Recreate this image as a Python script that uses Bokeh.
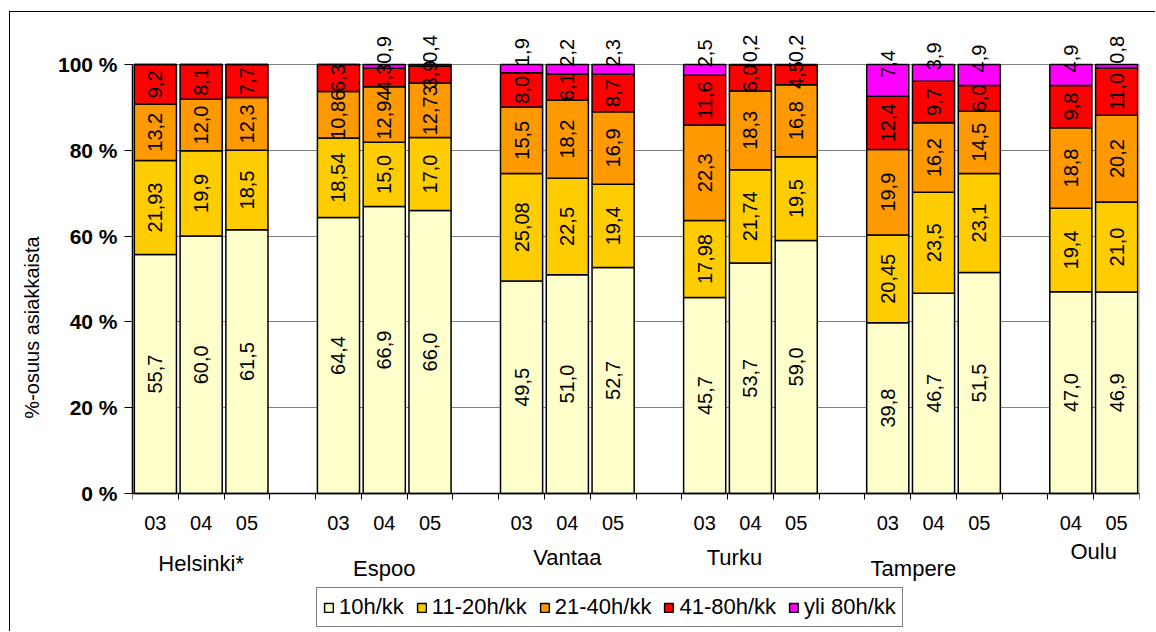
import math
from bokeh.plotting import figure
from bokeh.models import (ColumnDataSource, FixedTicker, Range1d, Legend, LegendItem)
from bokeh.core.properties import value
from bokeh.embed import file_html
from bokeh.resources import INLINE

# ---------------- data ----------------
cities = ["Helsinki*", "Espoo", "Vantaa", "Turku", "Tampere", "Oulu"]
city_years = [["03", "04", "05"], ["03", "04", "05"], ["03", "04", "05"],
              ["03", "04", "05"], ["03", "04", "05"], ["04", "05"]]
series = ["10h/kk", "11-20h/kk", "21-40h/kk", "41-80h/kk", "yli 80h/kk"]

h10    = [55.7, 60.0, 61.5, 64.4, 66.9, 66.0, 49.5, 51.0, 52.7, 45.7, 53.7, 59.0, 39.8, 46.7, 51.5, 47.0, 46.9]
h11_20 = [21.93, 19.9, 18.5, 18.54, 15.0, 17.0, 25.08, 22.5, 19.4, 17.98, 21.74, 19.5, 20.45, 23.5, 23.1, 19.4, 21.0]
h21_40 = [13.2, 12.0, 12.3, 10.86, 12.94, 12.73, 15.5, 18.2, 16.9, 22.3, 18.3, 16.8, 19.9, 16.2, 14.5, 18.8, 20.2]
h41_80 = [9.2, 8.1, 7.7, 6.3, 4.3, 3.9, 8.0, 6.1, 8.7, 11.6, 6.0, 4.5, 12.4, 9.7, 6.0, 9.8, 11.0]
yli80  = [0.0, 0.0, 0.0, 0.0, 0.9, 0.4, 1.9, 2.2, 2.3, 2.5, 0.2, 0.2, 7.4, 3.9, 4.9, 4.9, 0.8]

y_ticks = [0, 20, 40, 60, 80, 100]

# ---------------- styles ----------------
colors = ["#FFFFCC", "#FFCC00", "#FF9900", "#FF0000", "#FF00FF"]
FONT = "Liberation Sans"
PX = 4.29            # pixels per percent on the value axis
ZERO_Y = 493         # screen y of 0 %
TOP_Y = 22           # screen y of frame top
BOT_Y = 632          # screen y of frame bottom
# category label layout (nudges in slot units, screen-y of label centre)
cat_nudge = [0.0, 0.0, 0.0, -0.35, -0.44, 0.0]
cat_screen_y = [563, 568, 557, 557, 568, 551]

# ---------------- positions ----------------
xs, years, group_centers = [], [], []
slot = 0
for c, yrs in zip(cities, city_years):
    start = slot
    for y in yrs:
        xs.append(slot + 0.5)
        years.append(y)
        slot += 1
    group_centers.append((start + slot) / 2)
    slot += 1
n_slots = slot - 1
nb = len(xs)

raw = [h10, h11_20, h21_40, h41_80, yli80]
totals = [sum(r[i] for r in raw) for i in range(nb)]
norm = [[r[i] / totals[i] * 100 for i in range(nb)] for r in raw]
keys = ["s0", "s1", "s2", "s3", "s4"]
src = ColumnDataSource({"x": xs, **{k: n for k, n in zip(keys, norm)}})


def fmt(v):
    if abs(v * 10 - round(v * 10)) > 1e-6:
        s = f"{v:.2f}"
    else:
        s = f"{v:.1f}"
    return s.replace(".", ",")


p = figure(width=1146, height=620, x_range=Range1d(0, n_slots),
           y_range=Range1d(-(BOT_Y - ZERO_Y) / PX, (ZERO_Y - TOP_Y) / PX),
           output_backend="svg", toolbar_location=None,
           min_border_left=122, min_border_right=17,
           min_border_top=10, min_border_bottom=0)
p.styles = {"border-top": "1px solid black", "border-left": "1px solid black",
            "margin-top": "11px", "margin-left": "9px"}
p.outline_line_color = None
p.background_fill_color = "white"

rs = p.vbar_stack(keys, x="x", width=0.92, source=src, fill_color=colors,
                  line_color="black", line_width=1.5)

# right edge of plot area
p.segment(x0=[n_slots], y0=[0], x1=[n_slots], y1=[100], line_color="#A0A0A0", line_width=2)

# segment labels
lx, ly, lt = [], [], []
tx, ty, tt = [], [], []
for i in range(nb):
    bottom = 0.0
    for k in range(4):
        v = norm[k][i]
        lx.append(xs[i]); ly.append(bottom + v / 2); lt.append(fmt(raw[k][i]))
        bottom += v
    if raw[4][i] > 0:
        tx.append(xs[i]); ty.append(bottom + norm[4][i] / 2 + 0.6); tt.append(fmt(raw[4][i]))

p.text(x=lx, y=ly, text=lt, angle=math.pi / 2, text_align="center", text_baseline="middle",
       text_font=value(FONT), text_font_size="20px", text_color="black")
p.text(x=tx, y=ty, text=tt, angle=math.pi / 2, text_align="left", text_baseline="middle",
       text_font=value(FONT), text_font_size="20px", text_color="black")

# category labels
p.text(x=[gc + dn for gc, dn in zip(group_centers, cat_nudge)],
       y=[-(sy - ZERO_Y) / PX for sy in cat_screen_y], text=cities,
       text_align="center", text_baseline="middle",
       text_font=value(FONT), text_font_size="22px", text_color="black")

# y axis
p.yaxis.ticker = FixedTicker(ticks=y_ticks)
p.yaxis.major_label_overrides = {t: f"{t} %" for t in y_ticks}
p.yaxis.bounds = (0, 100)
p.yaxis.major_label_text_font = FONT
p.yaxis.major_label_text_font_style = "bold"
p.yaxis.major_label_text_font_size = "21px"
p.yaxis.major_label_text_color = "black"
p.yaxis.major_tick_out = 8
p.yaxis.major_tick_in = 0
p.yaxis.minor_tick_line_color = None
p.yaxis.major_label_standoff = 7
p.yaxis.axis_line_width = 1.5
p.yaxis.axis_line_color = "black"
p.yaxis.major_tick_line_color = "black"
p.yaxis.axis_label = "%-osuus asiakkaista"
p.yaxis.axis_label_text_font = FONT
p.yaxis.axis_label_text_font_style = "normal"
p.yaxis.axis_label_text_font_size = "20px"
p.yaxis.axis_label_text_color = "black"
p.yaxis.axis_label_standoff = 12

p.ygrid.ticker = FixedTicker(ticks=y_ticks)
p.ygrid.grid_line_color = "#808080"
p.ygrid.grid_line_width = 1
p.xgrid.visible = False

# x axis (drawn at 0 %, inside the frame)
p.xaxis.fixed_location = 0
p.xaxis.ticker = FixedTicker(ticks=xs, minor_ticks=list(range(n_slots + 1)))
p.xaxis.major_label_overrides = {x: y for x, y in zip(xs, years)}
p.xaxis.major_tick_out = 0
p.xaxis.major_tick_in = 0
p.xaxis.minor_tick_out = 6
p.xaxis.minor_tick_in = 0
p.xaxis.minor_tick_line_color = "black"
p.xaxis.axis_line_color = "black"
p.xaxis.axis_line_width = 1.5
p.xaxis.major_label_text_font = FONT
p.xaxis.major_label_text_font_size = "20px"
p.xaxis.major_label_text_color = "black"
p.xaxis.major_label_standoff = 16

legend = Legend(items=[LegendItem(label=s, renderers=[r]) for s, r in zip(series, rs)],
                orientation="horizontal", location=(184, 5),
                label_text_font=FONT, label_text_font_size="22px", label_text_color="black",
                glyph_width=11, glyph_height=11, label_standoff=5, spacing=12,
                padding=6, margin=0, border_line_color="black", border_line_width=1,
                background_fill_color="white", background_fill_alpha=1.0)
p.add_layout(legend, "center")

open("out.html", "w").write(file_html(p, INLINE))
